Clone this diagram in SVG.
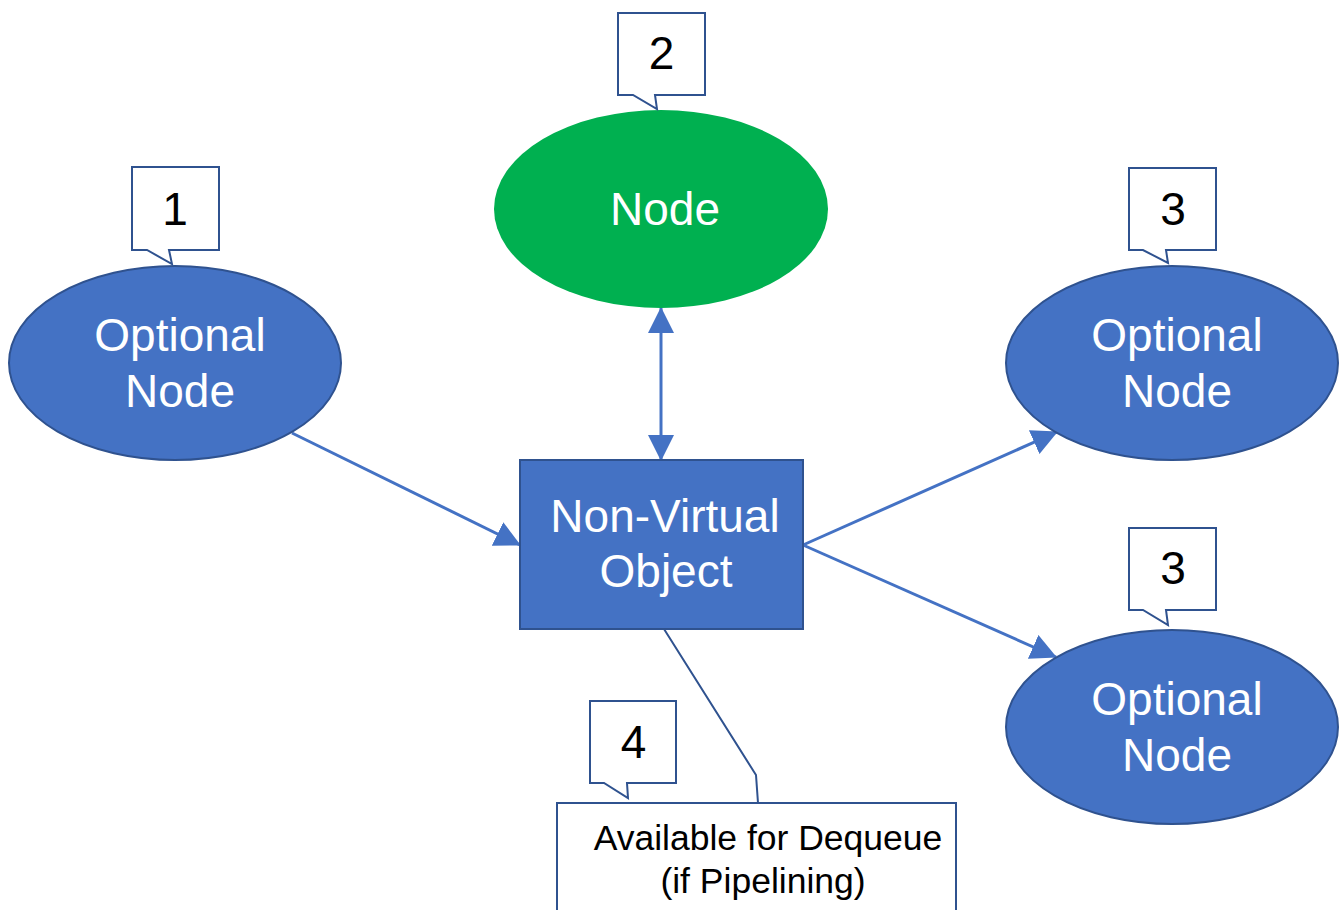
<svg xmlns="http://www.w3.org/2000/svg" width="1344" height="910" viewBox="0 0 1344 910">
  <defs>
    <marker id="arrow" viewBox="0 0 26 26" refX="25" refY="13" markerWidth="26" markerHeight="26" markerUnits="userSpaceOnUse" orient="auto-start-reverse">
      <path d="M0,0 L26,13 L0,26 Z" fill="#4472C4"/>
    </marker>
    <style>
      .shape { fill: #4472C4; stroke: #2F528F; stroke-width: 2; }
      .green { fill: #00B050; }
      .label { font-family: "Liberation Sans", Arial, sans-serif; font-size: 46px; fill: #FFFFFF; text-anchor: middle; }
      .callout { fill: #FFFFFF; stroke: #2F528F; stroke-width: 2; stroke-linejoin: miter; }
      .num { font-family: "Liberation Sans", Arial, sans-serif; font-size: 46px; fill: #000000; text-anchor: middle; }
      .note { font-family: "Liberation Sans", Arial, sans-serif; font-size: 35.5px; fill: #000000; text-anchor: middle; }
      .edge { fill: none; stroke: #4472C4; stroke-width: 3; }
      .leader { fill: none; stroke: #2F528F; stroke-width: 2; }
    </style>
  </defs>

  <rect width="1344" height="910" fill="#FFFFFF"/>

  <!-- connectors -->
  <g id="connectors">
    <line class="edge" x1="292" y1="433" x2="520" y2="545" marker-end="url(#arrow)"/>
    <line class="edge" x1="661" y1="308" x2="661" y2="460" marker-start="url(#arrow)" marker-end="url(#arrow)"/>
    <line class="edge" x1="803" y1="545" x2="1057" y2="432" marker-end="url(#arrow)"/>
    <line class="edge" x1="803" y1="545" x2="1056" y2="657" marker-end="url(#arrow)"/>
    <polyline class="leader" points="664,629 756,775 758,803"/>
  </g>

  <!-- central node -->
  <g id="non-virtual-object">
    <rect class="shape" x="520" y="460" width="283" height="169"/>
    <text class="label" x="665" y="532">Non-Virtual</text>
    <text class="label" x="666" y="587">Object</text>
  </g>

  <!-- main node -->
  <g id="node">
    <ellipse class="green" cx="661" cy="209" rx="167" ry="99"/>
    <text class="label" x="665" y="225">Node</text>
  </g>

  <!-- optional nodes -->
  <g id="optional-left">
    <ellipse class="shape" cx="175" cy="363" rx="166" ry="97"/>
    <text class="label" x="180" y="351">Optional</text>
    <text class="label" x="180" y="407">Node</text>
  </g>
  <g id="optional-right-top">
    <ellipse class="shape" cx="1172" cy="363" rx="166" ry="97"/>
    <text class="label" x="1177" y="351">Optional</text>
    <text class="label" x="1177" y="407">Node</text>
  </g>
  <g id="optional-right-bottom">
    <ellipse class="shape" cx="1172" cy="727" rx="166" ry="97"/>
    <text class="label" x="1177" y="715">Optional</text>
    <text class="label" x="1177" y="771">Node</text>
  </g>

  <!-- numbered callouts -->
  <g id="callout-1">
    <path class="callout" d="M132,167 H219 V250 H169 L172,264 L147,250 H132 Z"/>
    <text class="num" x="175" y="225">1</text>
  </g>
  <g id="callout-2">
    <path class="callout" d="M618,13 H705 V95 H655 L657,109 L633,95 H618 Z"/>
    <text class="num" x="661.5" y="69">2</text>
  </g>
  <g id="callout-3a">
    <path class="callout" d="M1129,168 H1216 V250 H1166 L1168,263 L1143,250 H1129 Z"/>
    <text class="num" x="1173" y="225">3</text>
  </g>
  <g id="callout-3b">
    <path class="callout" d="M1129,528 H1216 V610 H1166 L1168,625 L1143,610 H1129 Z"/>
    <text class="num" x="1173" y="584">3</text>
  </g>
  <g id="callout-4">
    <path class="callout" d="M590,701 H676 V783 H627 L628,798 L604,783 H590 Z"/>
    <text class="num" x="633.5" y="758">4</text>
  </g>

  <!-- dequeue note -->
  <g id="dequeue-note">
    <rect class="callout" x="557" y="803" width="399" height="120"/>
    <text class="note" x="768" y="850">Available for Dequeue</text>
    <text class="note" x="763" y="893">(if Pipelining)</text>
  </g>
</svg>
